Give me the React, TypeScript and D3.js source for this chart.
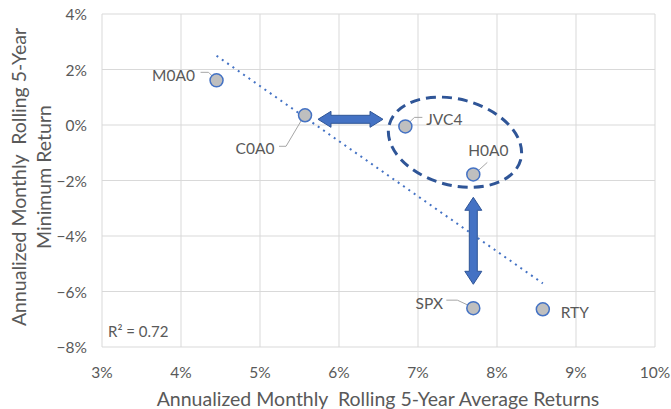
import React from "react";
import * as d3 from "d3";

const names = ["M0A0", "C0A0", "JVC4", "H0A0", "SPX", "RTY"];
const avgReturns = [0.0445, 0.0557, 0.0684, 0.077, 0.077, 0.0858];
const minReturns = [0.0161, 0.0035, -0.0005, -0.0178, -0.066, -0.0664];
const xTicks = [0.03, 0.04, 0.05, 0.06, 0.07, 0.08, 0.09, 0.1];
const yTicks = [-0.08, -0.06, -0.04, -0.02, 0, 0.02, 0.04];

// label offsets (pixels) relative to the point and leader lines
const labelOffsets: [number, number][] = [
  [-43, -5], [-50, 33], [39, -7], [15, -24], [-44, -5], [32, 3],
];
const leaders: [number, number][][] = [
  [[-16, -8], [-8, -8], [-2, -2]],
  [[-26, 31], [-19, 31], [-3, 4]],
  [[1, -1], [9, -9], [17, -9]],
  [[14, -12], [3, -2]],
  [[-27, -8], [-16, -8], [-1, -1]],
  [],
];

// annotations in data units
const hArrow = { x1: 0.05734, x2: 0.06557, y: 0.00205 };
const vArrow = { x: 0.077, y1: -0.02605, y2: -0.0574 };
const ellipseCenter = { x: 0.07468, y: -0.0062 };

const W = 671;
const H = 409;
const FONT = "Lato, 'Open Sans', sans-serif";
const TXT = "#595959";

function doubleArrowPath(len: number, shaft: number, head: number, headLen: number) {
  const s = shaft / 2;
  const h = head / 2;
  return `M0,0 L${headLen},${-h} L${headLen},${-s} L${len - headLen},${-s} L${len - headLen},${-h} L${len},0 L${len - headLen},${h} L${len - headLen},${s} L${headLen},${s} L${headLen},${h} Z`;
}

export default function App() {
  const x = d3.scaleLinear().domain([0.03, 0.1]).range([102, 655]);
  const y = d3.scaleLinear().domain([-0.08, 0.04]).range([347, 14]);
  const pct = d3.format(".0%");

  // linear regression
  const n = avgReturns.length;
  const mx = d3.mean(avgReturns)!;
  const my = d3.mean(minReturns)!;
  let sxy = 0, sxx = 0, syy = 0;
  for (let i = 0; i < n; i++) {
    sxy += (avgReturns[i] - mx) * (minReturns[i] - my);
    sxx += (avgReturns[i] - mx) ** 2;
    syy += (minReturns[i] - my) ** 2;
  }
  const slope = sxy / sxx;
  const icpt = my - slope * mx;
  const r2 = (sxy * sxy) / (sxx * syy);
  const x0 = d3.min(avgReturns)!;
  const x1 = d3.max(avgReturns)!;
  const line = d3.line<number>().x((d) => x(d)).y((d) => y(icpt + slope * d));

  const hx1 = x(hArrow.x1), hx2 = x(hArrow.x2), hy = y(hArrow.y);
  const vx = x(vArrow.x), vy1 = y(vArrow.y1), vy2 = y(vArrow.y2);
  const ex = x(ellipseCenter.x), ey = y(ellipseCenter.y);

  return (
    <svg width={W} height={H} style={{ position: "absolute", left: 0, top: 0, background: "#fff" }} fontFamily={FONT}>
      {xTicks.map((t) => (
        <line key={"gx" + t} x1={x(t)} x2={x(t)} y1={y(0.04)} y2={y(-0.08)} stroke="#D9D9D9" strokeWidth={1} />
      ))}
      {yTicks.map((t) => (
        <line key={"gy" + t} x1={x(0.03)} x2={x(0.1)} y1={y(t)} y2={y(t)} stroke="#D9D9D9" strokeWidth={1} />
      ))}
      {xTicks.map((t) => (
        <text key={"tx" + t} x={x(t)} y={372} textAnchor="middle" dominantBaseline="central" fontSize={15.5} fill={TXT}>
          {pct(t)}
        </text>
      ))}
      {yTicks.map((t) => (
        <text key={"ty" + t} x={87} y={y(t)} textAnchor="end" dominantBaseline="central" fontSize={15.5} fill={TXT}>
          {pct(t)}
        </text>
      ))}
      <path d={line([x0, x1])!} stroke="#4472C4" strokeWidth={2} strokeDasharray="2 4.5" fill="none" />
      {leaders.map((pts, i) =>
        pts.length ? (
          <polyline
            key={"ld" + i}
            points={pts.map(([dx, dy]) => `${x(avgReturns[i]) + dx},${y(minReturns[i]) + dy}`).join(" ")}
            fill="none"
            stroke="#A6A6A6"
            strokeWidth={1}
          />
        ) : null
      )}
      {names.map((nm, i) => (
        <circle key={"pt" + nm} cx={x(avgReturns[i])} cy={y(minReturns[i])} r={6.5} fill="#BFBFBF" stroke="#4472C4" strokeWidth={1.5} />
      ))}
      {names.map((nm, i) => (
        <text
          key={"lb" + nm}
          x={x(avgReturns[i]) + labelOffsets[i][0]}
          y={y(minReturns[i]) + labelOffsets[i][1]}
          textAnchor="middle"
          dominantBaseline="central"
          fontSize={15.5}
          fill={TXT}
        >
          {nm}
        </text>
      ))}
      <ellipse
        cx={0}
        cy={0}
        rx={68}
        ry={43}
        transform={`translate(${ex},${ey}) rotate(15)`}
        fill="none"
        stroke="#2F5597"
        strokeWidth={3}
        strokeDasharray="10 6"
      />
      <path
        d={doubleArrowPath(hx2 - hx1, 8, 16, 13)}
        transform={`translate(${hx1},${hy})`}
        fill="#4472C4"
        stroke="#2F5597"
        strokeWidth={1}
      />
      <path
        d={doubleArrowPath(vy2 - vy1, 8, 17, 13)}
        transform={`translate(${vx},${vy1}) rotate(90)`}
        fill="#4472C4"
        stroke="#2F5597"
        strokeWidth={1}
      />
      <text x={108} y={331} dominantBaseline="central" fontSize={15} fill={TXT}>
        R² = {r2.toFixed(2)}
      </text>
      <text x={378} y={398} textAnchor="middle" dominantBaseline="central" fontSize={19.5} fill={TXT}>
        Annualized Monthly{"\u00A0\u00A0"}Rolling 5-Year Average Returns
      </text>
      <g transform={`translate(18,177) rotate(-90)`}>
        <text x={0} y={0} textAnchor="middle" dominantBaseline="central" fontSize={19.5} fill={TXT}>
          Annualized Monthly{"\u00A0\u00A0"}Rolling 5-Year
        </text>
      </g>
      <g transform={`translate(43,177) rotate(-90)`}>
        <text x={0} y={0} textAnchor="middle" dominantBaseline="central" fontSize={19.5} fill={TXT}>
          Minimum Return
        </text>
      </g>
    </svg>
  );
}
